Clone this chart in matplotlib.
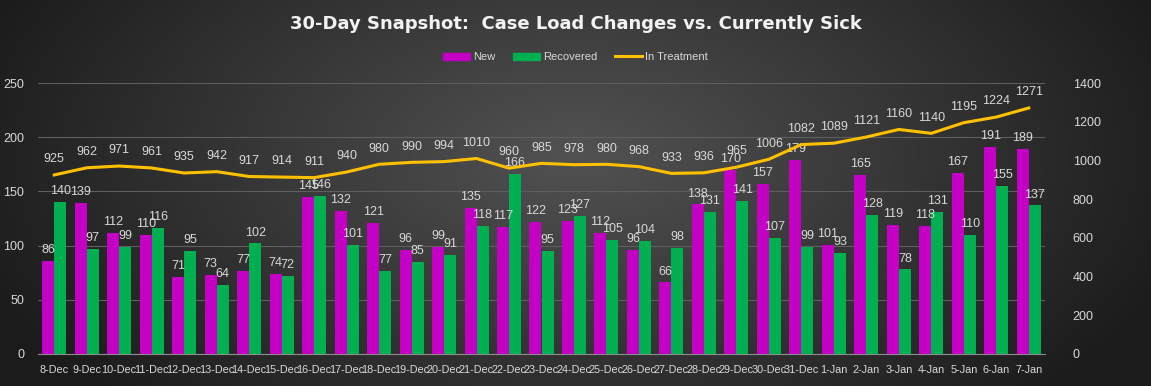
import numpy as np
import matplotlib
matplotlib.use('Agg')
import matplotlib.pyplot as plt
from matplotlib.patches import Patch
from matplotlib.lines import Line2D

# ---------------------------------------------------------------------------
# Data
# ---------------------------------------------------------------------------
dates = ['8-Dec', '9-Dec', '10-Dec', '11-Dec', '12-Dec', '13-Dec', '14-Dec',
         '15-Dec', '16-Dec', '17-Dec', '18-Dec', '19-Dec', '20-Dec', '21-Dec',
         '22-Dec', '23-Dec', '24-Dec', '25-Dec', '26-Dec', '27-Dec', '28-Dec',
         '29-Dec', '30-Dec', '31-Dec', '1-Jan', '2-Jan', '3-Jan', '4-Jan',
         '5-Jan', '6-Jan', '7-Jan']
new_cases = [86, 139, 112, 110, 71, 73, 77, 74, 145, 132, 121, 96, 99, 135,
             117, 122, 123, 112, 96, 66, 138, 170, 157, 179, 101, 165, 119,
             118, 167, 191, 189]
recovered = [140, 97, 99, 116, 95, 64, 102, 72, 146, 101, 77, 85, 91, 118,
             166, 95, 127, 105, 104, 98, 131, 141, 107, 99, 93, 128, 78, 131,
             110, 155, 137]
in_treatment = [925, 962, 971, 961, 935, 942, 917, 914, 911, 940, 980, 990,
                994, 1010, 960, 985, 978, 980, 968, 933, 936, 965, 1006, 1082,
                1089, 1121, 1160, 1140, 1195, 1224, 1271]

MAGENTA = '#C400C4'
GREEN = '#00B050'
GOLD = '#FFC000'
TEXT = '#D9D9D9'

plt.rcParams['font.family'] = ['Liberation Sans', 'DejaVu Sans']

W, H = 1151, 386
fig = plt.figure(figsize=(W / 100, H / 100), dpi=100)

# Radial dark-gray background
bg = fig.add_axes([0, 0, 1, 1], zorder=-10)
yy, xx = np.mgrid[0:H, 0:W]
r = np.sqrt(((xx - W * 0.5) / (W * 0.55)) ** 2 + ((yy - H * 0.4) / (H * 0.9)) ** 2)
r = np.clip(r, 0, 1)
inner, outer = np.array([0x52, 0x52, 0x52]) / 255, np.array([0x1c, 0x1c, 0x1c]) / 255
img = inner[None, None, :] * (1 - r[..., None]) + outer[None, None, :] * r[..., None]
bg.imshow(img, aspect='auto', extent=[0, 1, 0, 1])
bg.axis('off')

ax = fig.add_axes([38 / W, 1 - 354 / H, (1045 - 38) / W, (354 - 83) / H])
ax.patch.set_alpha(0)
ax2 = ax.twinx()
ax2.patch.set_alpha(0)

x = np.arange(len(dates))
bw = 0.37
b1 = ax.bar(x - bw / 2, new_cases, bw, color=MAGENTA, zorder=3)
b2 = ax.bar(x + bw / 2, recovered, bw, color=GREEN, zorder=3)
ax.bar_label(b1, padding=3.5, fontsize=9, color=TEXT)
ax.bar_label(b2, padding=3.5, fontsize=9, color=TEXT)

ax2.plot(x, in_treatment, color=GOLD, linewidth=2.2, zorder=4)
for xi, v in zip(x, in_treatment):
    ax2.annotate(str(v), (xi, v), xytext=(0, 7), textcoords='offset points',
                 ha='center', va='bottom', fontsize=9, color=TEXT)

ax.set_xlim(-0.5, len(dates) - 0.5)
ax.set_ylim(0, 250)
ax.set_yticks(range(0, 251, 50))
ax2.set_ylim(0, 1400)
ax2.set_yticks(range(0, 1401, 200))

ax.set_xticks(x)
ax.set_xticklabels(dates)
ax.tick_params(axis='x', length=0, pad=8, labelsize=7.8, labelcolor=TEXT)
ax.tick_params(axis='y', length=0, pad=10, labelsize=9, labelcolor=TEXT)
ax2.tick_params(axis='y', length=0, pad=20, labelsize=9, labelcolor=TEXT)

ax.grid(axis='y', color='#5E5E5E', linewidth=0.8, zorder=0)
ax.set_axisbelow(True)
for a in (ax, ax2):
    for s in a.spines.values():
        s.set_visible(False)
ax.spines['bottom'].set_visible(True)
ax.spines['bottom'].set_color('#8C8C8C')

fig.text(0.5, 1 - 24 / H, '30-Day Snapshot:  Case Load Changes vs. Currently Sick',
         ha='center', va='center', fontsize=13, fontweight='bold', color='#F2F2F2',
         family=['DejaVu Sans'])

handles = [Patch(color=MAGENTA), Patch(color=GREEN),
           Line2D([], [], color=GOLD, linewidth=2.2)]
fig.legend(handles, ['New', 'Recovered', 'In Treatment'], loc='center',
           bbox_to_anchor=(0.5, 1 - 57 / H), ncol=3, frameon=False,
           fontsize=8, labelcolor=TEXT, handlelength=2.4, handleheight=0.6,
           columnspacing=1.6, handletextpad=0.3)

fig.savefig('out.png', dpi=100)
